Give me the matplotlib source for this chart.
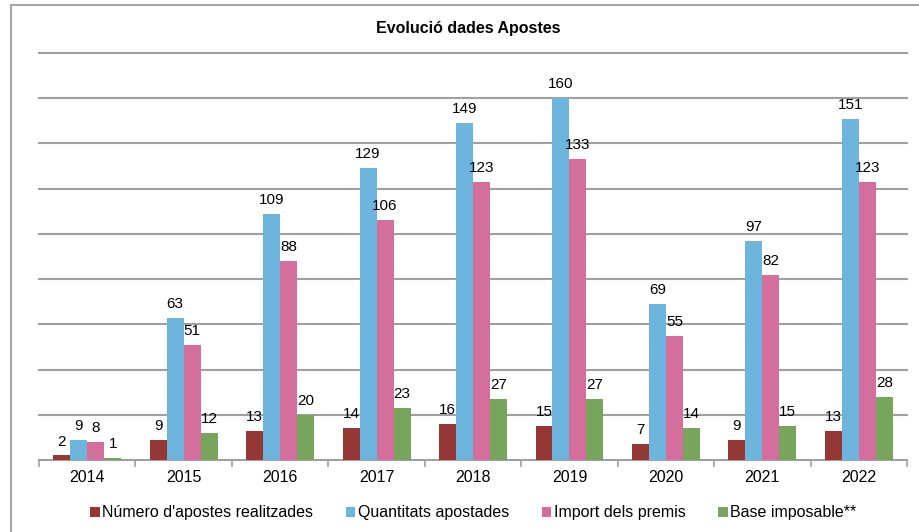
import numpy as np
import matplotlib.pyplot as plt
from matplotlib.patches import Rectangle

plt.rcParams['font.family'] = ['Liberation Sans', 'DejaVu Sans']

years = ['2014', '2015', '2016', '2017', '2018', '2019', '2020', '2021', '2022']
num_apostes = [2, 9, 13, 14, 16, 15, 7, 9, 13]
quantitats = [9, 63, 109, 129, 149, 160, 69, 97, 151]
premis = [8, 51, 88, 106, 123, 133, 55, 82, 123]
base_imp = [1, 12, 20, 23, 27, 27, 14, 15, 28]

series = {
    "Número d'apostes realitzades": (num_apostes, '#953735'),
    'Quantitats apostades': (quantitats, '#6DB5DD'),
    'Import dels premis': (premis, '#D46E9C'),
    'Base imposable**': (base_imp, '#77A55C'),
}

fig = plt.figure(figsize=(9.19, 5.32), dpi=100)
ax = fig.add_axes([0.0424, 0.1353, 0.9446, 0.7651])

# outer chart frame
fig.patches.append(Rectangle((11 / 919, -0.02), 1.0, (527 / 532) + 0.02,
                             transform=fig.transFigure, fill=False,
                             edgecolor='#A6A6A6', linewidth=1.5))

x = np.arange(len(years))
w = 0.176
for i, (name, (vals, col)) in enumerate(series.items()):
    pos = x + (i - 1.5) * w
    bars = ax.bar(pos, vals, width=w, color=col, label=name, zorder=3)
    for b, v in zip(bars, vals):
        ax.annotate(str(v), (b.get_x() + b.get_width() / 2, v),
                    xytext=(0, 5), textcoords='offset points',
                    ha='center', va='bottom', fontsize=11)

ax.set_xlim(-0.5, len(years) - 0.5)
ax.set_ylim(0, 180)
ax.set_yticks(np.arange(20, 181, 20))
ax.yaxis.grid(True, color='#A0A0A0', linewidth=1.5, zorder=0)
for gl in ax.get_ygridlines():
    gl.set_clip_on(False)
ax.tick_params(axis='y', left=False, labelleft=False)

ax.set_xticks(x)
ax.set_xticklabels(years, fontsize=11.5)
ax.tick_params(axis='x', length=0, pad=7)
# category boundary ticks
ax.set_xticks(np.arange(-0.5, len(years), 1), minor=True)
ax.tick_params(axis='x', which='minor', length=5, color='#A0A0A0', width=1.2)

for s in ['top', 'right', 'left']:
    ax.spines[s].set_visible(False)
ax.spines['bottom'].set_color('#A0A0A0')
ax.spines['bottom'].set_linewidth(1.5)

fig.text(0.51, 0.947, 'Evolució dades Apostes', ha='center', va='center',
         fontsize=11.5, fontweight='bold')

fig.legend(loc='center', bbox_to_anchor=(0.515, 0.036), ncol=4, frameon=False,
           fontsize=11.5, handlelength=0.6, handleheight=0.6,
           handletextpad=0.15, columnspacing=2.05)

fig.savefig('out.png', dpi=100)
